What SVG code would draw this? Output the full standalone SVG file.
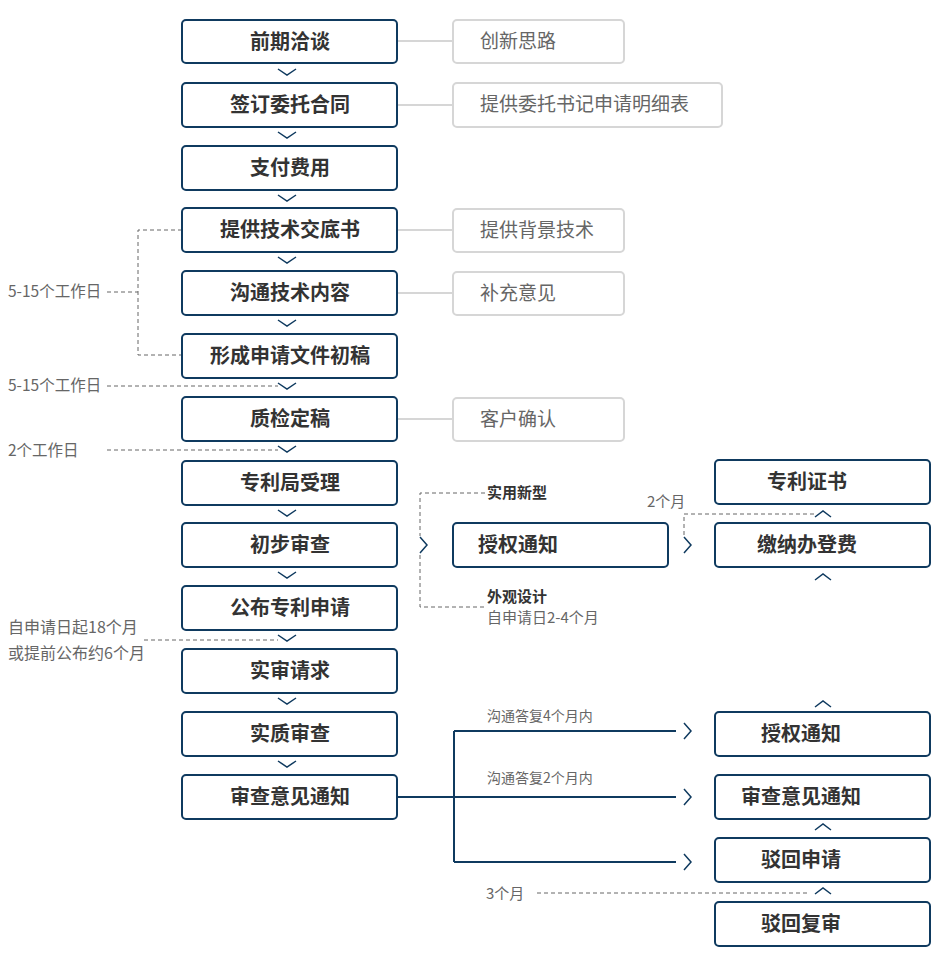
<svg xmlns="http://www.w3.org/2000/svg" width="943" height="959" viewBox="0 0 943 959">
<style>
.n{fill:#fff;stroke:#0f3a5f;stroke-width:2}
.g{fill:#fff;stroke:#d6d6d6;stroke-width:2}
.nt{font-family:"Noto Sans CJK SC","Noto Sans",sans-serif;font-size:20px;font-weight:bold;fill:#333;text-anchor:middle}
.gt{font-family:"Noto Sans CJK SC","Noto Sans",sans-serif;font-size:19px;fill:#666}
.lt{font-family:"Noto Sans CJK SC","Noto Sans",sans-serif;font-size:15px;fill:#666}
.lb{font-family:"Noto Sans CJK SC","Noto Sans",sans-serif;font-size:16px;fill:#666}
.ls{font-family:"Noto Sans CJK SC","Noto Sans",sans-serif;font-size:14px;fill:#666}
.bt{font-family:"Noto Sans CJK SC","Noto Sans",sans-serif;font-size:15px;font-weight:bold;fill:#333}
.ch{fill:none;stroke:#0f3a5f;stroke-width:1.5}
.gl{stroke:#d6d6d6;stroke-width:2}
.dl{fill:none;stroke:#666;stroke-width:1;stroke-dasharray:4 3}
.sl{fill:none;stroke:#0f3a5f;stroke-width:2}
</style>
<g id="connectors">
<line class="gl" x1="397" y1="41" x2="453" y2="41"/>
<line class="gl" x1="397" y1="105" x2="453" y2="105"/>
<line class="gl" x1="397" y1="230" x2="453" y2="230"/>
<line class="gl" x1="397" y1="293" x2="453" y2="293"/>
<line class="gl" x1="397" y1="419" x2="453" y2="419"/>
<path class="ch" d="M278 69L287 75L296 69M278 132L287 138L296 132M278 195L287 201L296 195M278 257L287 263L296 257M278 320L287 326L296 320M278 383L287 389L296 383M278 446L287 452L296 446M278 510L287 516L296 510M278 572L287 578L296 572M278 635L287 641L296 635M278 698L287 704L296 698M278 761L287 767L296 761"/>
<path class="dl" d="M182 230H138V355H182M107 292H138"/>
<path class="dl" d="M107 386H278"/>
<path class="dl" d="M107 450H278"/>
<path class="dl" d="M144 640H278"/>
<path class="dl" d="M485 493H420V536M420 555V607H485"/>
<path class="ch" d="M420 537L427 545L420 553"/>
<path class="ch" d="M684 537L691 545L684 553"/>
<path class="dl" d="M684 535V514H815"/>
<path class="ch" d="M815 517L823 511L831 517M815 580L823 574L831 580"/>
<path class="ch" d="M815 707L823 701L831 707M815 830L823 824L831 830M815 894L823 888L831 894"/>
<path class="sl" d="M397 797H676M454 731V862M454 731H676M454 862H676"/>
<path class="ch" d="M684 723L691 731L684 739M684 789L691 797L684 805M684 854L691 862L684 870"/>
<path class="dl" d="M537 893H807"/>
</g>
<g id="n1"><rect class="n" x="182" y="20" width="215" height="43" rx="4"/><text class="nt" x="290" y="49">前期洽谈</text></g>
<g id="n2"><rect class="n" x="182" y="83" width="215" height="44" rx="4"/><text class="nt" x="290" y="112">签订委托合同</text></g>
<g id="n3"><rect class="n" x="182" y="146" width="215" height="44" rx="4"/><text class="nt" x="290" y="175">支付费用</text></g>
<g id="n4"><rect class="n" x="182" y="208" width="215" height="44" rx="4"/><text class="nt" x="290" y="237">提供技术交底书</text></g>
<g id="n5"><rect class="n" x="182" y="271" width="215" height="44" rx="4"/><text class="nt" x="290" y="300">沟通技术内容</text></g>
<g id="n6"><rect class="n" x="182" y="334" width="215" height="44" rx="4"/><text class="nt" x="290" y="363">形成申请文件初稿</text></g>
<g id="n7"><rect class="n" x="182" y="397" width="215" height="44" rx="4"/><text class="nt" x="290" y="426">质检定稿</text></g>
<g id="n8"><rect class="n" x="182" y="461" width="215" height="44" rx="4"/><text class="nt" x="290" y="490">专利局受理</text></g>
<g id="n9"><rect class="n" x="182" y="523" width="215" height="44" rx="4"/><text class="nt" x="290" y="552">初步审查</text></g>
<g id="n10"><rect class="n" x="182" y="586" width="215" height="44" rx="4"/><text class="nt" x="290" y="615">公布专利申请</text></g>
<g id="n11"><rect class="n" x="182" y="649" width="215" height="44" rx="4"/><text class="nt" x="290" y="678">实审请求</text></g>
<g id="n12"><rect class="n" x="182" y="712" width="215" height="44" rx="4"/><text class="nt" x="290" y="741">实质审查</text></g>
<g id="n13"><rect class="n" x="182" y="775" width="215" height="44" rx="4"/><text class="nt" x="290" y="804">审查意见通知</text></g>
<g id="s1"><rect class="g" x="453" y="20" width="171" height="43" rx="4"/><text class="gt" x="480" y="48">创新思路</text></g>
<g id="s2"><rect class="g" x="453" y="83" width="269" height="44" rx="4"/><text class="gt" x="480" y="111">提供委托书记申请明细表</text></g>
<g id="s3"><rect class="g" x="453" y="209" width="171" height="43" rx="4"/><text class="gt" x="480" y="237">提供背景技术</text></g>
<g id="s4"><rect class="g" x="453" y="272" width="171" height="43" rx="4"/><text class="gt" x="480" y="300">补充意见</text></g>
<g id="s5"><rect class="g" x="453" y="398" width="171" height="43" rx="4"/><text class="gt" x="480" y="426">客户确认</text></g>
<g id="m1"><rect class="n" x="453" y="523" width="215" height="44" rx="4"/><text class="nt" x="518" y="552">授权通知</text></g>
<g id="r1"><rect class="n" x="715" y="460" width="215" height="44" rx="4"/><text class="nt" x="807" y="489">专利证书</text></g>
<g id="r2"><rect class="n" x="715" y="523" width="215" height="44" rx="4"/><text class="nt" x="807" y="552">缴纳办登费</text></g>
<g id="r3"><rect class="n" x="715" y="712" width="215" height="44" rx="4"/><text class="nt" x="801" y="741">授权通知</text></g>
<g id="r4"><rect class="n" x="715" y="775" width="215" height="44" rx="4"/><text class="nt" x="801" y="804">审查意见通知</text></g>
<g id="r5"><rect class="n" x="715" y="838" width="215" height="44" rx="4"/><text class="nt" x="801" y="867">驳回申请</text></g>
<g id="r6"><rect class="n" x="715" y="902" width="215" height="44" rx="4"/><text class="nt" x="801" y="931">驳回复审</text></g>
<g id="labels">
<text class="lt" x="8" y="297" style="font-size:15.5px">5-15个工作日</text>
<text class="lt" x="8" y="391" style="font-size:15.5px">5-15个工作日</text>
<text class="lt" x="8" y="456" style="font-size:15.5px">2个工作日</text>
<text class="lb" x="8" y="633">自申请日起18个月</text>
<text class="lb" x="8" y="659">或提前公布约6个月</text>
<text class="bt" x="487" y="498">实用新型</text>
<text class="bt" x="487" y="602">外观设计</text>
<text class="lt" x="487" y="623">自申请日2-4个月</text>
<text class="lt" x="647" y="507">2个月</text>
<text class="ls" x="487" y="721">沟通答复4个月内</text>
<text class="ls" x="487" y="783">沟通答复2个月内</text>
<text class="lt" x="486" y="899">3个月</text>
</g>
</svg>
